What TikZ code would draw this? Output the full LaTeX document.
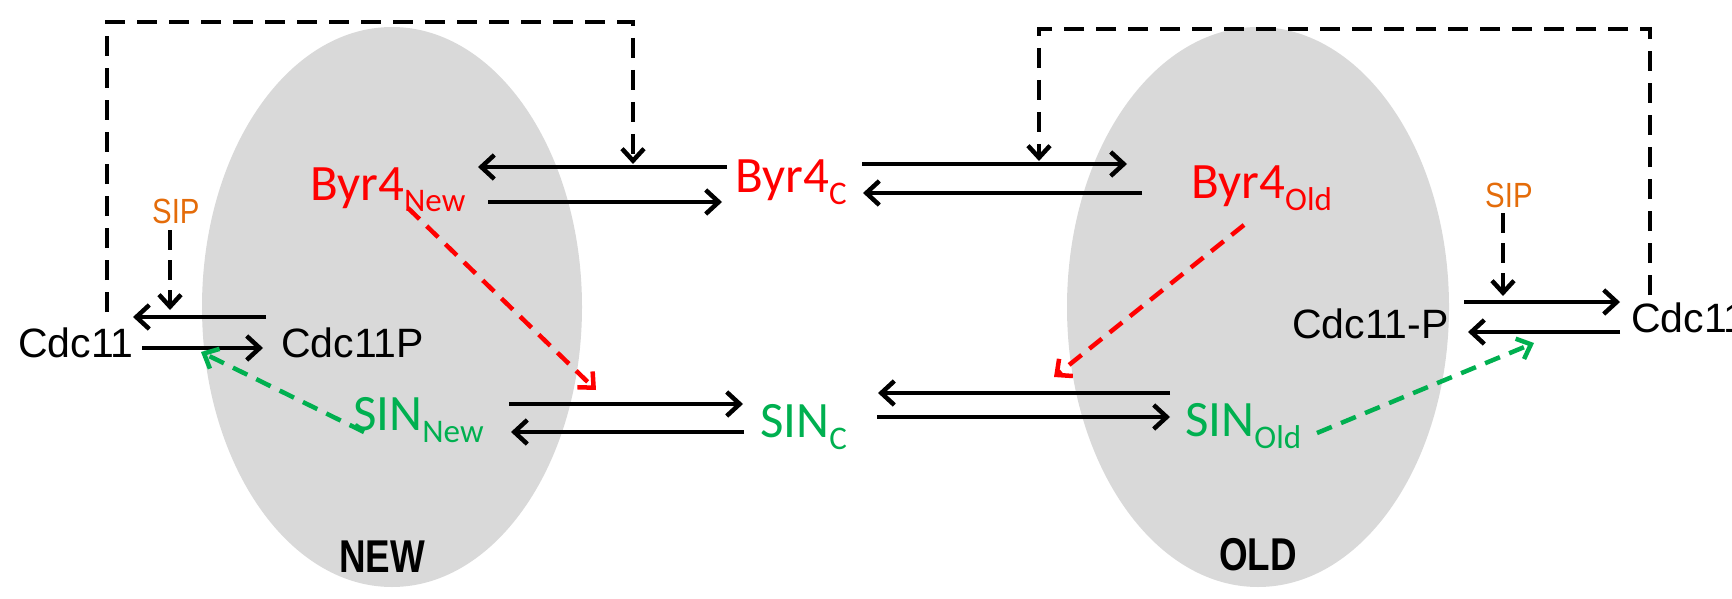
\documentclass[tikz,border=0pt]{standalone}
\usepackage{fontspec}
\usetikzlibrary{arrows.meta}
\newfontfamily\calib{Carlito}
\newfontfamily\arial{Liberation Sans}
\newfontfamily\narrow[FakeStretch=0.84]{Liberation Sans}
\newfontfamily\narrowbold[FakeStretch=0.8]{Liberation Sans Bold}
\definecolor{cellgray}{HTML}{D9D9D9}
\definecolor{sinGreen}{HTML}{00B050}
\definecolor{sipOrange}{HTML}{E46C0A}
\newcommand{\sub}[1]{\raisebox{-12pt}{\fontsize{33}{33}\selectfont #1}}
\tikzset{
  lbl/.style={inner sep=0pt, anchor=base west},
  byr/.style={lbl, text=red, font=\calib\fontsize{51}{51}\selectfont},
  sin/.style={lbl, text=sinGreen, font=\calib\fontsize{51}{51}\selectfont},
  cdc/.style={lbl, font=\arial\fontsize{41}{41}\selectfont},
  sip/.style={lbl, text=sipOrange, font=\narrow\fontsize{35}{35}\selectfont},
  cell/.style={inner sep=0pt, anchor=base, font=\narrowbold\fontsize{46}{46}\selectfont},
  flow/.style={line width=4.5pt, -{Straight Barb[length=13pt,width=24pt]}},
  feedback/.style={line width=4.5pt, dash pattern=on 20pt off 12pt},
  feedtip/.style={feedback, -{Straight Barb[length=12pt,width=22pt]}},
  act/.style={line width=4.5pt, dash pattern=on 16pt off 10pt, -{Straight Barb[length=12pt,width=22pt]}}
}
\begin{document}
\begin{tikzpicture}[x=1pt, y=-1pt]
\useasboundingbox (0,0) rectangle (1732,599);
\clip (0,0) rectangle (1732,599);

% compartments
\fill[cellgray] (392,307) ellipse [x radius=190, y radius=280];
\fill[cellgray] (1258,307) ellipse [x radius=191, y radius=280];
\node[cell] (new) at (382,572) {NEW};
\node[cell] (old) at (1258,570) {OLD};

% species
\node[byr] (byrnew) at (310,200) {Byr4\sub{New}};
\node[byr] (byrc)   at (735,192) {Byr4\sub{C}};
\node[byr] (byrold) at (1191,198) {Byr4\sub{Old}};
\node[sin] (sinnew) at (353,430) {SIN\sub{New}};
\node[sin] (sinc)   at (760,437) {SIN\sub{C}};
\node[sin] (sinold) at (1185,436) {SIN\sub{Old}};
\node[cdc] (cdcl)   at (18,357) {Cdc11};
\node[cdc] (cdclp)  at (281,357) {Cdc11P};
\node[cdc] (cdcrp)  at (1292,338) {Cdc11-P};
\node[cdc] (cdcr)   at (1631,332) {Cdc11};
\node[sip] (sipl)   at (152,223) {SIP};
\node[sip] (sipr)   at (1485,207) {SIP};

% arrow end points
\coordinate (a1s) at (727,167);  \coordinate (a1e) at (478,167);
\coordinate (a2s) at (488,202);  \coordinate (a2e) at (722,202);
\coordinate (a3s) at (862,164);  \coordinate (a3e) at (1127,164);
\coordinate (a4s) at (1142,193); \coordinate (a4e) at (863,193);
\coordinate (a5s) at (266,317);  \coordinate (a5e) at (133,317);
\coordinate (a6s) at (142,348);  \coordinate (a6e) at (263,348);
\coordinate (a7s) at (509,404);  \coordinate (a7e) at (743,404);
\coordinate (a8s) at (744,432);  \coordinate (a8e) at (511,432);
\coordinate (a9s) at (1170,393); \coordinate (a9e) at (878,393);
\coordinate (a10s) at (877,417); \coordinate (a10e) at (1170,417);
\coordinate (a11s) at (1464,302);\coordinate (a11e) at (1620,302);
\coordinate (a12s) at (1620,332);\coordinate (a12e) at (1468,332);

% exchange between compartments and cytoplasm
\draw[flow] (a1s) -- (a1e);
\draw[flow] (a2s) -- (a2e);
\draw[flow] (a3s) -- (a3e);
\draw[flow] (a4s) -- (a4e);
\draw[flow] (a7s) -- (a7e);
\draw[flow] (a8s) -- (a8e);
\draw[flow] (a9s) -- (a9e);
\draw[flow] (a10s) -- (a10e);
% Cdc11 phosphorylation cycles
\draw[flow] (a5s) -- (a5e);
\draw[flow] (a6s) -- (a6e);
\draw[flow] (a11s) -- (a11e);
\draw[flow] (a12s) -- (a12e);

% Cdc11 feedback onto Byr4 transport
\coordinate (fbl0) at (107,312);
\coordinate (fbl1) at (107,22);
\coordinate (fbl2) at (633,22);
\coordinate (fbl3) at (633,164);
\draw[feedtip] (fbl0) -- (fbl1) -- (fbl2) -- (fbl3);
\coordinate (fbr0) at (1650,295);
\coordinate (fbr1) at (1650,29);
\coordinate (fbr2) at (1039,29);
\coordinate (fbr3) at (1039,161);
\draw[feedtip] (fbr0) -- (fbr1) -- (fbr2) -- (fbr3);

% SIP acting on dephosphorylation
\coordinate (sipltip) at (170,310);
\coordinate (siprtip) at (1503,296);
\draw[feedtip, dash pattern=on 20pt off 10pt] (170,230) -- (sipltip);
\draw[feedtip, dash pattern=on 20pt off 10pt] (1503,213) -- (siprtip);

% Byr4 inhibition of SIN, SIN action on Cdc11
\coordinate (rnt) at (596,390);
\coordinate (rot) at (1054,377);
\coordinate (gnt) at (201,352);
\coordinate (got) at (1534,343);
\draw[act, red] (408,208) -- (rnt);
\draw[act, red] (1244,225) -- (rot);
\draw[act, sinGreen] (364,432) -- (gnt);
\draw[act, sinGreen] (1317,433) -- (got);
\end{tikzpicture}
\end{document}
